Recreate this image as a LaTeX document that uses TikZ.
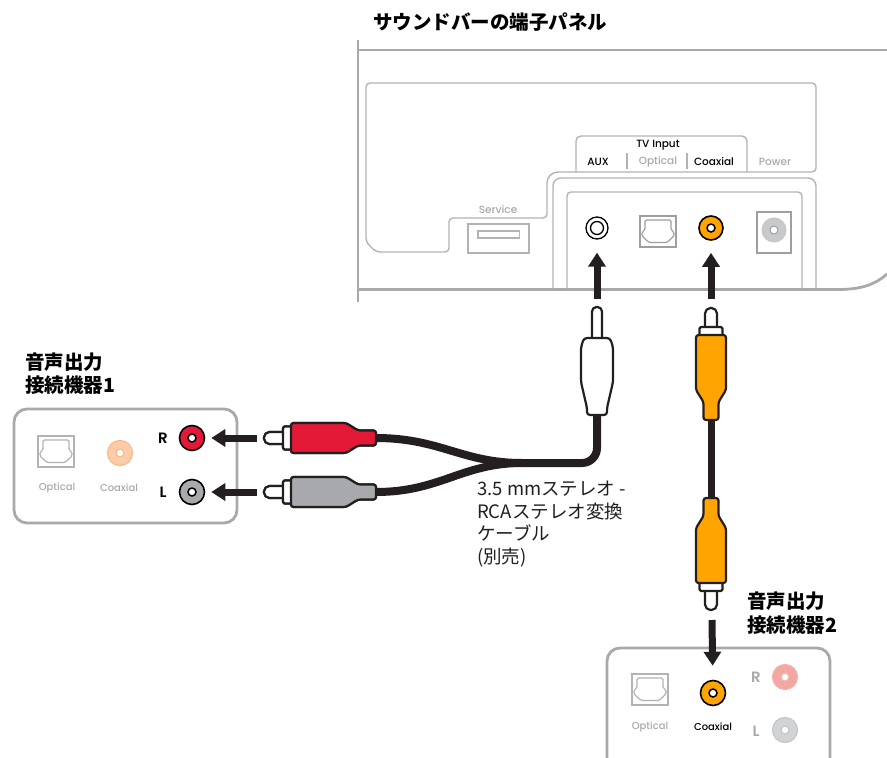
\documentclass[tikz,border=0pt]{standalone}
\usepackage{fontspec}
\setmainfont{Noto Sans CJK JP}
\newfontfamily\labfont{Poppins}[UprightFont=*-Medium, BoldFont=*-SemiBold]
\usetikzlibrary{arrows.meta}

\definecolor{bargray}{HTML}{A7A9AC}
\definecolor{panelgray}{HTML}{B1B3B6}
\definecolor{textgray}{HTML}{A7A9AC}
\definecolor{optgray}{HTML}{9D9FA2}
\definecolor{plugorange}{HTML}{FFA400}
\definecolor{plugred}{HTML}{E31937}
\definecolor{pluggray}{HTML}{A7A9AC}
\definecolor{peach}{HTML}{FDCBA8}
\definecolor{peachline}{HTML}{F9B98E}
\definecolor{pink}{HTML}{F4A7A0}
\definecolor{pinkline}{HTML}{F2B3AD}
\definecolor{lightjack}{HTML}{D1D3D4}
\definecolor{lightjackline}{HTML}{C4C6C8}
\definecolor{powerfill}{HTML}{C8C9CA}
\definecolor{ink}{HTML}{231F20}

\tikzset{
  barline/.style={draw=bargray, line width=2.8pt},
  panel/.style={draw=panelgray, line width=1.4pt, rounded corners=4pt},
  devbox/.style={draw=bargray, line width=2.8pt, rounded corners=13pt},
  optline/.style={draw=#1, line width=1.2pt},
  optline/.default=panelgray,
  jack/.style={circle, draw=black, line width=1.6pt, minimum size=25pt, inner sep=0pt},
  hole/.style={circle, draw=black, fill=white, line width=1.5pt, minimum size=8pt, inner sep=0pt},
  lab/.style={font=\labfont\fontsize{10.5}{12}\selectfont, inner sep=0pt},
  rl/.style={font=\labfont\bfseries\fontsize{15}{16}\selectfont, inner sep=0pt},
  heading/.style={font=\bfseries\fontsize{19.5}{23.5}\selectfont, inner sep=0pt, align=left, anchor=west},
  cable/.style={draw=ink, line width=8pt},
  plugline/.style={draw=ink, line width=2.2pt, line join=round},
  arr/.style={draw=ink, line width=7pt, -{Triangle[width=17pt,length=14pt]}},
  % optical port: square with the toslink outline inside
  pics/optport/.style={code={
    \draw[optline=#1] (0,0) rectangle (36,31);
    \draw[optline=#1, rounded corners=1.5pt] (5,4) -- (31,4) -- (31,14) -- (34,16) -- (34,20)
      -- (27,26.5) -- (9,26.5) -- (2,20) -- (2,16) -- (5,14) -- cycle;
  }},
  % RCA plug: pin tip at the origin, body along +x
  pics/rcaplug/.style={code={
    \coordinate (-tip) at (0,0);
    \coordinate (-end) at (112,0);
    \draw[plugline, fill=white, rounded corners=5.5pt] (0,-6) rectangle (24,6);
    \draw[plugline, fill=white, rounded corners=1.5pt] (19,-11.5) rectangle (28,11.5);
    \draw[plugline, fill=#1, rounded corners=2.5pt] (27,-15) -- (82,-15) -- (94,-7.5) -- (112,-7.5)
      -- (112,7.5) -- (94,7.5) -- (82,15) -- (27,15) -- cycle;
  }},
}

\begin{document}
\begin{tikzpicture}[x=1pt,y=-1pt]
\clip (0,0) rectangle (887,758);
\fill[white] (0,0) rectangle (887,758);

% ---------- soundbar rear panel ----------
\node[heading] (bartitle) at (373,22) {サウンドバーの端子パネル};

\draw[barline, line width=2pt] (357.5,40) -- (357.5,302);
\draw[barline] (357.5,50) -- (887,50);
\draw[barline] (357.5,289.5) -- (838,289.5) .. controls (862,289.5) and (876,284) .. (887,274);

% recessed connector area
\draw[panel] (366,83) -- (816,83) -- (816,172) -- (562,172)
  .. controls (552,172) and (547,177) .. (547,187)
  -- (547,218) -- (449,218) -- (449,252) -- (376,252) -- (366,242) -- cycle;
\draw[panel, rounded corners=5pt] (576,172) -- (576,136) -- (747,136) -- (747,172);
\draw[panel, rounded corners=8pt] (553,289.5) -- (553,178) -- (816,178) -- (816,289.5);
\draw[panel] (567,289.5) -- (567,192) -- (802,192) -- (802,289.5);
\draw[panel] (627,153) -- (627,169);
\draw[panel] (687,153) -- (687,169);

\node[lab] (tvinput) at (658,145) {TV Input};
\node[lab] (auxlab) at (598,162) {AUX};
\node[lab, text=textgray] (optlab) at (658,162) {Optical};
\node[lab] (coaxlab) at (714,162) {Coaxial};
\node[lab, text=textgray] (powerlab) at (775,162) {Power};
\node[lab, text=textgray] (servicelab) at (498,210) {Service};

% service USB port
\draw[panel, rounded corners=0pt] (468,224) rectangle (529,253);
\draw[panel, rounded corners=0pt] (478,231) rectangle (519.5,238);

% AUX jack
\node[circle, draw=black, fill=white, line width=1.3pt, minimum size=22pt, inner sep=0pt] (auxjack) at (597,228) {};
\node[circle, draw=black, line width=1.3pt, minimum size=13pt, inner sep=0pt] (auxring) at (auxjack) {};

% optical input
\pic at (640,216) {optport=optgray};

% coaxial input
\node[jack, fill=plugorange, minimum size=24pt] (coaxjack) at (711,228) {};
\node[hole] (coaxhole) at (coaxjack) {};

% power input
\draw[optline=optgray] (757,212) rectangle (791,253);
\node[circle, draw=lightjackline, fill=powerfill, line width=1pt, minimum size=24pt, inner sep=0pt] (powerjack) at (774,230) {};
\node[circle, draw=optgray, fill=white, line width=1pt, minimum size=8pt, inner sep=0pt] (powerhole) at (powerjack) {};

% ---------- device 1 ----------
\node[heading] (dev1title) at (25,373.5) {音声出力\\接続機器1};
\draw[devbox] (14,409) rectangle (237,523);
\pic at (38,436) {optport=panelgray};
\node[jack, fill=peach, draw=peachline, line width=1.2pt] (dev1coax) at (120,453) {};
\node[hole, draw=peachline, line width=1.2pt] (dev1coaxhole) at (dev1coax) {};
\node[lab, text=textgray, font=\labfont\fontsize{10}{12}\selectfont] (dev1optlab) at (57,488) {Optical};
\node[lab, text=textgray, font=\labfont\fontsize{10}{12}\selectfont] (dev1coaxlab) at (119,488) {Coaxial};
\node[rl] (dev1r) at (163,438) {R};
\node[rl] (dev1l) at (163,492) {L};
\node[jack, fill=plugred] (rjack) at (192,438) {};
\node[hole] (rhole) at (rjack) {};
\node[jack, fill=pluggray] (ljack) at (192,492) {};
\node[hole] (lhole) at (ljack) {};

% ---------- device 2 ----------
\node[heading] (dev2title) at (747,613) {音声出力\\接続機器2};
\draw[devbox] (607,648) rectangle (830,800);
\pic at (632,674) {optport=panelgray};
\node[jack, fill=plugorange] (dev2coax) at (713,693) {};
\node[hole] (dev2coaxhole) at (dev2coax) {};
\node[lab, text=textgray, font=\labfont\fontsize{10}{12}\selectfont] (dev2optlab) at (650,727) {Optical};
\node[lab, font=\labfont\fontsize{10}{12}\selectfont] (dev2coaxlab) at (713,727) {Coaxial};
\node[rl, text=textgray] (dev2r) at (756,677) {R};
\node[rl, text=textgray] (dev2l) at (756,731) {L};
\node[jack, fill=pink, draw=pinkline, line width=1.2pt] (dev2rjack) at (785,677) {};
\node[hole, draw=pinkline, line width=1.2pt] (dev2rhole) at (dev2rjack) {};
\node[jack, fill=lightjack, draw=lightjackline, line width=1.2pt] (dev2ljack) at (785,730) {};
\node[hole, draw=lightjackline, line width=1.2pt] (dev2lhole) at (dev2ljack) {};

% ---------- 3.5 mm to RCA cable ----------
\coordinate (mini-tip) at (597,307);
\coordinate (mini-end) at (597,415);
\coordinate (ysplit) at (522,463);
\coordinate (ybend) at (597,463);
\pic (redplug) at (264,438) {rcaplug=plugred};
\pic (grayplug) at (264,492) {rcaplug=pluggray};

\draw[cable, rounded corners=15pt] (mini-end) -- (ybend) -- (ysplit);
\draw[cable] (redplug-end) .. controls (440,438) and (462,463) .. (ysplit);
\draw[cable] (grayplug-end) .. controls (440,492) and (462,463) .. (ysplit);
\pic at (264,438) {rcaplug=plugred};
\pic at (264,492) {rcaplug=pluggray};

\draw[plugline, fill=white, rounded corners=4.5pt] (592,307) rectangle (602,345);
\draw[plugline, fill=white, rounded corners=3pt] (584,338) -- (610,338) -- (613,347) -- (613,382)
  -- (607,408) -- (607,415) -- (587,415) -- (587,408) -- (581,382) -- (581,347) -- cycle;

\node[align=left, anchor=north west, inner sep=0pt, text=ink,
      font=\fontsize{18.5}{22.5}\selectfont] (cablenote) at (477,481)
  {3.5 mmステレオ -\\RCAステレオ変換\\ケーブル\\(別売)};

% ---------- coaxial cable ----------
\pic[rotate=-90] (coaxtop) at (711,308) {rcaplug=plugorange};
\pic[rotate=90] (coaxbot) at (711,610) {rcaplug=plugorange};
\draw[cable, line width=7pt] (coaxtop-end) -- (coaxbot-end);

% ---------- insertion arrows ----------
\coordinate (auxtail) at (597,299);
\coordinate (coaxtail) at (711,299);
\coordinate (rtail) at (257,438);
\coordinate (ltail) at (257,492);
\coordinate (dev2tail) at (712,620);
\draw[arr, shorten >=13pt] (auxtail) -- (auxjack);
\draw[arr, shorten >=12pt] (coaxtail) -- (coaxjack);
\draw[arr, shorten >=6pt] (rtail) -- (rjack);
\draw[arr, shorten >=6pt] (ltail) -- (ljack);
\draw[arr, shorten >=14pt] (dev2tail) -- (dev2coax);
\end{tikzpicture}
\end{document}
